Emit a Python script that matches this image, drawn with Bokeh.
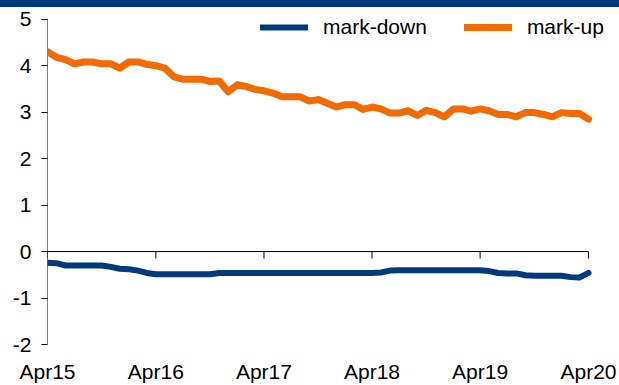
import pandas as pd
from bokeh.plotting import figure
from bokeh.models import (Range1d, FixedTicker, Legend, LegendItem, Div,
                          DatetimeTickFormatter, ColumnDataSource)
from bokeh.layouts import column
from bokeh.embed import file_html
from bokeh.resources import INLINE

# ---- data (monthly, Apr 2015 .. Apr 2020) ----
start_month = "2015-04-01"
mark_up = [4.30, 4.18, 4.13, 4.04, 4.08, 4.08, 4.04, 4.04, 3.95, 4.08,
           4.08, 4.03, 4.00, 3.95, 3.76, 3.71, 3.71, 3.71, 3.66, 3.67,
           3.44, 3.59, 3.55, 3.49, 3.46, 3.41, 3.33, 3.33, 3.33, 3.24,
           3.27, 3.19, 3.11, 3.16, 3.16, 3.06, 3.11, 3.07, 2.98, 2.98,
           3.03, 2.93, 3.04, 2.99, 2.90, 3.07, 3.07, 3.02, 3.07, 3.03,
           2.95, 2.95, 2.90, 2.99, 2.99, 2.95, 2.90, 2.99, 2.97, 2.97,
           2.85]
mark_down = [-0.24, -0.25, -0.30, -0.30, -0.30, -0.30, -0.30, -0.33, -0.37, -0.38,
             -0.41, -0.46, -0.49, -0.49, -0.49, -0.49, -0.49, -0.49, -0.49, -0.46,
             -0.46, -0.46, -0.46, -0.46, -0.46, -0.46, -0.46, -0.46, -0.46, -0.46,
             -0.46, -0.46, -0.46, -0.46, -0.46, -0.46, -0.46, -0.45, -0.41, -0.40,
             -0.40, -0.40, -0.40, -0.40, -0.40, -0.40, -0.40, -0.40, -0.40, -0.42,
             -0.46, -0.47, -0.47, -0.51, -0.52, -0.52, -0.52, -0.52, -0.55, -0.56,
             -0.46]
x_tick_dates = ["2015-04-01", "2016-04-01", "2017-04-01", "2018-04-01",
                "2019-04-01", "2020-04-01"]
x_tick_labels = ["Apr15", "Apr16", "Apr17", "Apr18", "Apr19", "Apr20"]
y_ticks = [-2, -1, 0, 1, 2, 3, 4, 5]
y_tick_labels = ["-2", "-1", "0", "1", "2", "3", "4", "5"]
series_names = ["mark-down", "mark-up"]

BLUE = "#003A7D"
ORANGE = "#F26A00"
FONT = "Liberation Sans"

# ---- layout (pixels) ----
W, H = 619, 378
LEFT, BOTTOM = 47, 33
PLOT_W = 541          # pixels from first to last x tick
PLOT_H = 333          # pixels from y=-2 to y=5
frame_w = W - LEFT
frame_h = H - BOTTOM

months = pd.date_range(start_month, periods=len(mark_up), freq="MS")
src = ColumnDataSource(dict(x=months, up=mark_up, down=mark_down))
tick_ms = [pd.Timestamp(d).value / 1e6 for d in x_tick_dates]

x0, x1 = tick_ms[0], tick_ms[-1]
x_end = x0 + (x1 - x0) * frame_w / PLOT_W
y0, y1 = y_ticks[0], y_ticks[-1]
y_end = y0 + (y1 - y0) * frame_h / PLOT_H

p = figure(width=W, height=H, output_backend="svg", toolbar_location=None,
           x_axis_type="datetime",
           x_range=Range1d(x0, x_end), y_range=Range1d(y0, y_end),
           min_border_left=LEFT, min_border_right=0, min_border_top=0,
           min_border_bottom=BOTTOM)
p.outline_line_color = None
p.grid.visible = False
p.background_fill_color = "white"
p.border_fill_color = "white"

# y axis (ticks + labels; axis line drawn as a segment to stop at 5)
ya = p.yaxis[0]
ya.ticker = FixedTicker(ticks=y_ticks)
ya.major_label_overrides = {t: l for t, l in zip(y_ticks, y_tick_labels)}
ya.major_tick_out = 6
ya.major_tick_in = 0
ya.minor_tick_line_color = None
ya.axis_line_color = None
ya.major_tick_line_color = "black"
ya.major_label_standoff = 10
ya.major_label_text_font = FONT
ya.major_label_text_font_size = "21px"
ya.major_label_text_color = "black"

# x axis: labels only at the bottom
xa = p.xaxis[0]
xa.ticker = FixedTicker(ticks=tick_ms)
xa.formatter = DatetimeTickFormatter(months="%b%y", years="%b%y", days="%b%y")
xa.major_label_overrides = {t: l for t, l in zip(tick_ms, x_tick_labels)}
xa.axis_line_color = None
xa.major_tick_line_color = None
xa.minor_tick_line_color = None
xa.major_label_standoff = 9
xa.major_label_text_font = FONT
xa.major_label_text_font_size = "21px"
xa.major_label_text_color = "black"

# y axis line, zero line and its downward ticks
p.segment(x0=[x0], x1=[x0], y0=[y0], y1=[y1], line_color="black", line_width=1)
p.segment(x0=[x0], x1=[x1], y0=[0], y1=[0], line_color="black", line_width=1)
tick_len = 0.15
p.segment(x0=tick_ms, x1=tick_ms, y0=[0] * len(tick_ms),
          y1=[-tick_len] * len(tick_ms), line_color="black", line_width=1)

r_down = p.line("x", "down", source=src, line_color=BLUE, line_width=6,
                line_join="round", line_cap="round")
r_up = p.line("x", "up", source=src, line_color=ORANGE, line_width=7,
              line_join="round", line_cap="round")

legend = Legend(items=[LegendItem(label=series_names[0], renderers=[r_down]),
                       LegendItem(label=series_names[1], renderers=[r_up])],
                orientation="horizontal", location=(213, 305),
                padding=0, margin=0, spacing=37, label_standoff=15,
                glyph_width=48, glyph_height=24, label_height=24,
                label_text_font=FONT, label_text_font_size="21px",
                label_text_color="black",
                border_line_color=None, background_fill_alpha=0)
p.add_layout(legend)

bar = Div(width=W, height=7, margin=(0, 0, 0, 0),
          styles={"background-color": BLUE})
layout = column(bar, p, spacing=0)

open("out.html", "w").write(file_html(layout, INLINE))
